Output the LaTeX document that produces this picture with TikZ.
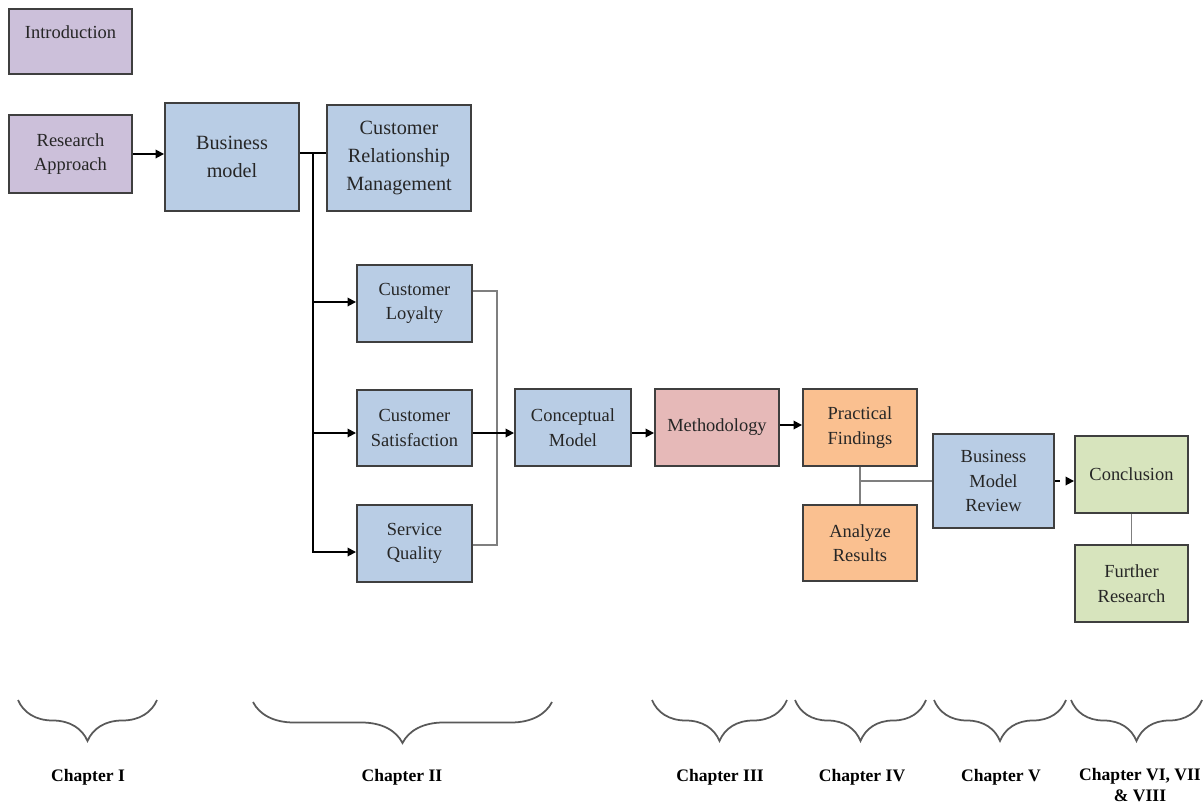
\documentclass[tikz,border=0pt]{standalone}
\usepackage{fontspec}
\setmainfont{Liberation Serif}
\usetikzlibrary{calc}
\usetikzlibrary{arrows.meta}
\usetikzlibrary{decorations.pathreplacing}

\definecolor{boxline}{HTML}{3F3F3F}
\definecolor{boxtext}{HTML}{262626}
\definecolor{introfill}{HTML}{CCC0DA}
\definecolor{litfill}{HTML}{B9CDE5}
\definecolor{methfill}{HTML}{E6B9B8}
\definecolor{findfill}{HTML}{FAC090}
\definecolor{concfill}{HTML}{D7E4BD}
\definecolor{mergegray}{HTML}{7F7F7F}
\definecolor{bracegray}{HTML}{595959}

\begin{document}
\begin{tikzpicture}[x=0.02cm,y=-0.02cm,
                box/.style={draw=boxline,line width=1.1pt,align=center,inner sep=0pt,text=boxtext,font=\fontsize{10.5}{14}\selectfont},
                introbox/.style={box,fill=introfill},
                litbox/.style={box,fill=litfill},
                methbox/.style={box,fill=methfill},
                findbox/.style={box,fill=findfill},
                concbox/.style={box,fill=concfill},
                arr/.style={line width=1pt,-{Triangle[length=1.7mm,width=1.7mm]}},
                merge/.style={draw=mergegray,line width=1.1pt},
                chbrace/.style={draw=bracegray,line width=1pt,decorate,decoration={brace,mirror,amplitude=0.82cm}},
                chlabel/.style={font=\bfseries\fontsize{10}{12}\selectfont,align=center}]
                \useasboundingbox (0,0) rectangle (1204,805);

                \node[introbox,minimum width=2.46cm,minimum height=1.30cm,text depth=11pt] (intro) at (70.5,41.5) {Introduction};
                \node[introbox,minimum width=2.46cm,minimum height=1.56cm] (resapp) at (70.5,154) {Research\\Approach};
                \node[litbox,minimum width=2.68cm,minimum height=2.16cm,font=\fontsize{11.5}{16}\selectfont] (bizmod) at (232,157) {Business\\model};
                \node[litbox,minimum width=2.88cm,minimum height=2.12cm,font=\fontsize{11.5}{16}\selectfont] (crm) at (399,158) {Customer\\Relationship\\Management};

                \node[litbox,minimum width=2.30cm,minimum height=1.54cm] (loyal) at (414.5,303.5) {Customer\\Loyalty};
                \node[litbox,minimum width=2.30cm,minimum height=1.52cm] (satis) at (414.5,428) {Customer\\Satisfaction};
                \node[litbox,minimum width=2.30cm,minimum height=1.54cm] (servq) at (414.5,543.5) {Service\\Quality};
                \node[litbox,minimum width=2.32cm,minimum height=1.54cm] (concept) at (573,427.5) {Conceptual\\Model};
                \node[methbox,minimum width=2.48cm,minimum height=1.54cm] (method) at (717,427.5) {Methodology};
                \node[findbox,minimum width=2.28cm,minimum height=1.54cm] (practical) at (860,427.5) {Practical\\Findings};
                \node[findbox,minimum width=2.28cm,minimum height=1.52cm] (analyze) at (860,543) {Analyze\\Results};
                \node[litbox,minimum width=2.42cm,minimum height=1.88cm] (review) at (993.5,481) {Business\\Model\\Review};
                \node[concbox,minimum width=2.26cm,minimum height=1.54cm] (concl) at (1131.5,474.5) {Conclusion};
                \node[concbox,minimum width=2.26cm,minimum height=1.54cm] (further) at (1131.5,583.5) {Further\\Research};

                \coordinate (split) at (313,153);
                \coordinate (join) at (497,433);

                \draw[arr] (resapp.east) -- (resapp.east -| bizmod.west);
                \draw[line width=1pt] (bizmod.east |- split) -- (crm.west |- split);
                \draw[arr] (split) |- ($(loyal.west)+(0,-1.5)$);
                \draw[arr] (split) |- ($(satis.west)+(0,5)$);
                \draw[arr] (split) |- ($(servq.west)+(0,8.5)$);
                \draw[merge] ($(loyal.east)+(0,-12.5)$) -| (join) |- ($(servq.east)+(0,1.5)$);
                \draw[arr] ($(satis.east)+(0,5)$) -- ($(concept.west)+(0,5.5)$);
                \draw[arr] ($(concept.east)+(0,5.5)$) -- ($(method.west)+(0,5.5)$);
                \draw[arr] ($(method.east)+(0,-2.5)$) -- ($(practical.west)+(0,-2.5)$);
                \draw[merge] (practical.south) -- (analyze.north);
                \draw[merge] (practical |- review.west) -- (review.west);
                \draw[arr,dashed] (review.east) -- (review.east -| concl.west);
                \draw[merge] (concl.south) -- (further.north);

                \draw[chbrace] (18,700) -- (157,700);
                \draw[chbrace] (253,702) -- (552,702);
                \draw[chbrace] (652,700) -- (787,700);
                \draw[chbrace] (795,700) -- (926,700);
                \draw[chbrace] (934,700) -- (1066,700);
                \draw[chbrace] (1071,700) -- (1202,700);

                \node[chlabel] (ch1) at (88,777) {Chapter I};
                \node[chlabel] (ch2) at (402,777) {Chapter II};
                \node[chlabel] (ch3) at (720,777) {Chapter III};
                \node[chlabel] (ch4) at (862,777) {Chapter IV};
                \node[chlabel] (ch5) at (1001,777) {Chapter V};
                \node[chlabel] (ch6) at (1140,785) {Chapter VI, VII\\\& VIII};
            \end{tikzpicture}
\end{document}
